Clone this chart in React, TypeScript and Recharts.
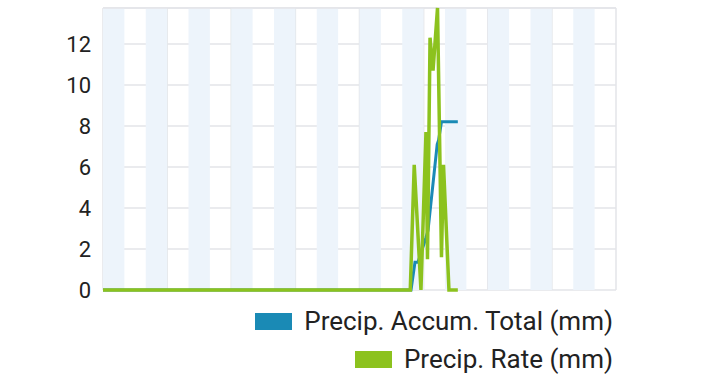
import { ComposedChart, Line, XAxis, YAxis, CartesianGrid, ReferenceArea, ReferenceLine } from 'recharts';

// time axis in hours (48h window), precipitation in mm
const rateHours = [0, 28.75, 29.12, 29.75, 30.22, 30.36, 30.6, 30.88, 31.3, 31.67, 31.86, 32.37, 33.2];
const rateValues = [0, 0, 6.1, 0, 7.7, 1.5, 12.3, 10.7, 13.75, 1.6, 6.1, 0, 0];

const totalHours = [0, 28.82, 29.19, 29.47, 30.22, 30.41, 31.27, 31.4, 31.67, 33.2];
const totalValues = [0, 0, 1.35, 1.35, 2.55, 2.9, 7.1, 7.3, 8.2, 8.2];

const yTicks = [0, 2, 4, 6, 8, 10, 12];
const gridHours = [0, 6, 12, 18, 24, 30, 36, 42, 48];
const bandStarts = [0, 4, 8, 12, 16, 20, 24, 28, 32, 36, 40, 44];

const rateData = rateHours.map((h, i) => ({ h, v: rateValues[i] }));
const totalData = totalHours.map((h, i) => ({ h, v: totalValues[i] }));

const BLUE = '#1a8ab5';
const GREEN = '#8cc21e';
const FONT = 'Roboto, "Noto Sans", sans-serif';

const legendRows = [
  { color: BLUE, label: 'Precip. Accum. Total (mm)', top: 306 },
  { color: GREEN, label: 'Precip. Rate (mm)', top: 344 },
];

function LegendBox() {
  return (
    <>
      {legendRows.map(r => (
        <div
          key={r.label}
          style={{
            position: 'absolute', top: r.top, right: 714 - 613, height: 30,
            display: 'flex', alignItems: 'center', fontFamily: FONT,
          }}
        >
          <span style={{ display: 'inline-block', width: 37, height: 17, background: r.color, marginRight: 12 }} />
          <span style={{ fontSize: 26, color: '#222', lineHeight: '30px', whiteSpace: 'nowrap' }}>{r.label}</span>
        </div>
      ))}
    </>
  );
}

export default function App() {
  return (
    <div style={{ position: 'absolute', left: 0, top: 0, width: 714, height: 374, background: '#fff', overflow: 'hidden' }}>
      <ComposedChart width={714} height={374} margin={{ top: 8, right: 98, bottom: 84, left: 0 }}>
        {bandStarts.map(s => (
          <ReferenceArea key={s} x1={s} x2={s + 2} y1={0} y2={13.75} fill="#edf4fb" fillOpacity={1} stroke="none" ifOverflow="hidden" />
        ))}
        <CartesianGrid stroke="#e3e5e8" strokeWidth={1.5} />
        <XAxis type="number" dataKey="h" domain={[0, 48]} ticks={gridHours} interval={0} hide allowDuplicatedCategory={false} />
        <YAxis
          type="number"
          domain={[0, 13.75]}
          ticks={yTicks}
          interval={0}
          width={103}
          tickSize={0}
          tickMargin={12}
          axisLine={false}
          tickLine={false}
          tick={{ fontSize: 22, fill: '#222', fontFamily: FONT }}
        />
        <ReferenceLine y={13.75} stroke="#e3e5e8" strokeWidth={1.5} />
        <Line data={totalData} dataKey="v" type="linear" stroke={BLUE} strokeWidth={3} dot={false} isAnimationActive={false} />
        <Line data={rateData} dataKey="v" type="linear" stroke={GREEN} strokeWidth={3.5} dot={false} isAnimationActive={false} />
      </ComposedChart>
      <LegendBox />
    </div>
  );
}
